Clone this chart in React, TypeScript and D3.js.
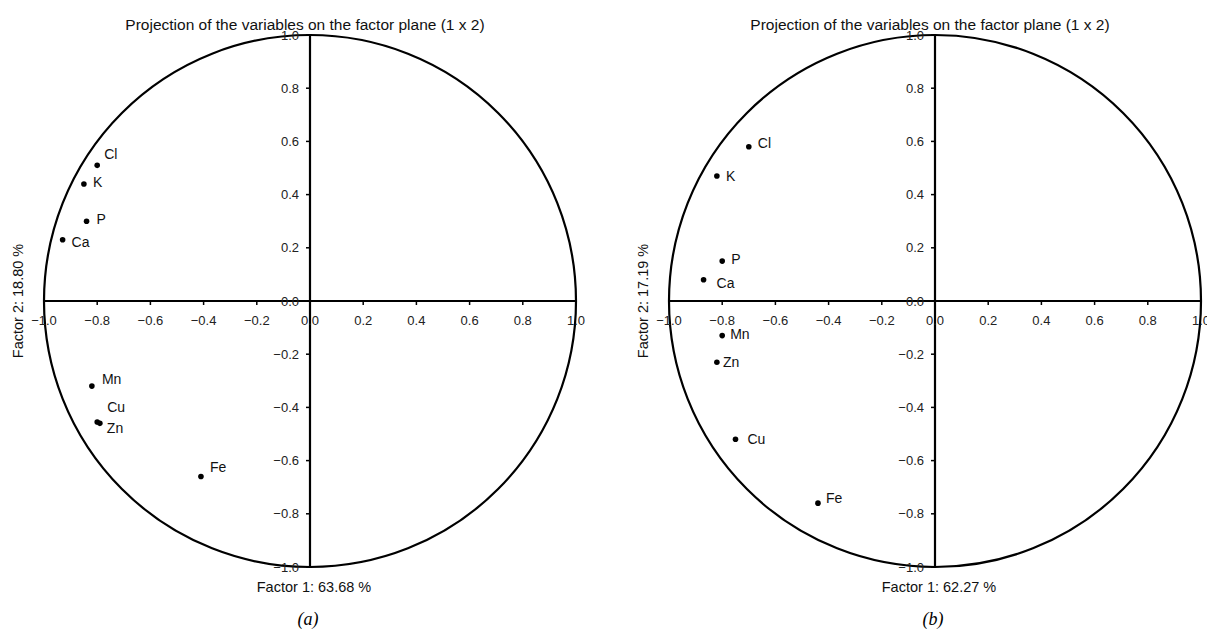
import React from 'react';
import * as d3 from 'd3';

// variables projected on the factor plane
const variables = ['Cl', 'K', 'P', 'Ca', 'Mn', 'Cu', 'Zn', 'Fe'];

// panel (a)
const factor1A = [-0.80, -0.85, -0.84, -0.93, -0.82, -0.80, -0.79, -0.41];
const factor2A = [0.51, 0.44, 0.30, 0.23, -0.32, -0.455, -0.46, -0.66];

// panel (b)
const factor1B = [-0.70, -0.82, -0.80, -0.87, -0.80, -0.75, -0.82, -0.44];
const factor2B = [0.58, 0.47, 0.15, 0.08, -0.13, -0.52, -0.23, -0.76];

const ticks = [-1.0, -0.8, -0.6, -0.4, -0.2, 0.0, 0.2, 0.4, 0.6, 0.8, 1.0];

// label placement next to each dot (px)
const labelDxA = [7, 9, 10, 9, 10, 10, 7, 9];
const labelDyA = [-11, -2, -2, 2, -7, -15, 5, -9];
const labelDxB = [9, 9, 9, 13, 8, 12, 6, 8];
const labelDyB = [-4, 0, -2, 3, -1, 0, 0, -5];

const font = 'Liberation Sans, Arial, sans-serif';

const Panel = ({ cx, xs, ys, dxs, dys, f1, f2, tag }) => {
  const r = 266;
  const cy = 301;
  const x = d3.scaleLinear().domain([-1, 1]).range([cx - r, cx + r]);
  const y = d3.scaleLinear().domain([-1, 1]).range([cy + r, cy - r]);
  const fmt = d3.format('.1f');

  return (
    <g>
      <text x={cx - 5} y={30} textAnchor="middle" fontSize={15.5} fontFamily={font} fill="#111">
        Projection of the variables on the factor plane (1 x 2)
      </text>
      <circle cx={x(0)} cy={y(0)} r={x(1) - x(0)} fill="none" stroke="#000" strokeWidth={2.2} />
      <line x1={x(-1)} x2={x(1)} y1={y(0)} y2={y(0)} stroke="#000" strokeWidth={2.2} />
      <line x1={x(0)} x2={x(0)} y1={y(-1)} y2={y(1)} stroke="#000" strokeWidth={2.2} />
      {ticks.map(t => (
        <g key={'x' + t}>
          <line x1={x(t)} x2={x(t)} y1={y(0)} y2={y(0) + 4} stroke="#000" strokeWidth={1.5} />
          <text x={x(t)} y={y(0) + 24} textAnchor="middle" fontSize={13} fontFamily={font} fill="#222">
            {fmt(t)}
          </text>
        </g>
      ))}
      {ticks.map(t => (
        <g key={'y' + t}>
          <line x1={x(0) - 4} x2={x(0)} y1={y(t)} y2={y(t)} stroke="#000" strokeWidth={1.5} />
          <text x={x(0) - 11} y={y(t)} dy="0.35em" textAnchor="end" fontSize={13} fontFamily={font} fill="#222">
            {fmt(t)}
          </text>
        </g>
      ))}
      {variables.map((v, i) => (
        <g key={v}>
          <circle cx={x(xs[i])} cy={y(ys[i])} r={2.8} fill="#000" />
          <text x={x(xs[i]) + dxs[i]} y={y(ys[i]) + dys[i]} dy="0.35em" fontSize={14} fontFamily={font} fill="#111">
            {v}
          </text>
        </g>
      ))}
      <text x={cx + 4} y={592} textAnchor="middle" fontSize={14.5} fontFamily={font} fill="#111">
        {f1}
      </text>
      <text
        transform={`translate(${cx - r - 26},${cy}) rotate(-90)`}
        textAnchor="middle"
        dy="0.35em"
        fontSize={14.5}
        fontFamily={font}
        fill="#111"
      >
        {f2}
      </text>
      <text x={cx - 2} y={625} textAnchor="middle" fontSize={18} fontStyle="italic" fontFamily="Liberation Serif, Times New Roman, serif" fill="#000">
        {tag}
      </text>
    </g>
  );
};

export default function App() {
  return (
    <svg width={1207} height={629} style={{ position: 'absolute', left: 0, top: 0, background: '#fff' }}>
      <rect width={1207} height={629} fill="#fff" />
      <Panel cx={310} xs={factor1A} ys={factor2A} dxs={labelDxA} dys={labelDyA}
        f1="Factor 1: 63.68 %" f2="Factor 2: 18.80 %" tag="(a)" />
      <Panel cx={935} xs={factor1B} ys={factor2B} dxs={labelDxB} dys={labelDyB}
        f1="Factor 1: 62.27 %" f2="Factor 2: 17.19 %" tag="(b)" />
    </svg>
  );
}
